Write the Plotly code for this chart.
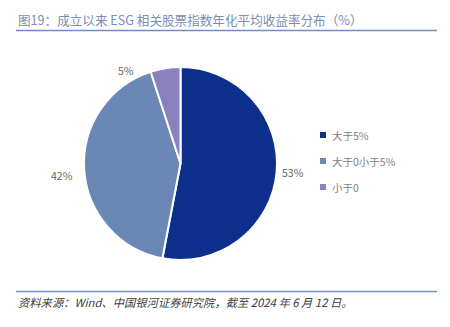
import plotly.graph_objects as go

# Share of ESG-related equity indices by annualised average return since inception
categories = ["大于5%", "大于0小于5%", "小于0"]
shares = [53, 42, 5]
colors = ["#0B2F8A", "#6B87B5", "#8A80BD"]

title_text = "图19：成立以来 ESG 相关股票指数年化平均收益率分布（%）"
source_text = "资料来源：Wind、中国银河证券研究院，截至 2024 年 6 月 12 日。"

W, H = 450, 327
font_cjk = "Noto Sans CJK SC"


def px_x(x):
    return x / W


def px_y(y):
    return 1 - y / H


fig = go.Figure(
    go.Pie(
        labels=categories,
        values=shares,
        sort=False,
        direction="clockwise",
        rotation=0,
        marker=dict(colors=colors, line=dict(color="white", width=2)),
        textinfo="none",
        hoverinfo="label+value",
        showlegend=False,
        domain=dict(x=[px_x(84), px_x(277)], y=[px_y(260), px_y(67)]),
    )
)

shapes = [
    dict(type="line", xref="paper", yref="paper",
         x0=px_x(16), x1=px_x(437), y0=px_y(30.5), y1=px_y(30.5),
         line=dict(color="#6F8DCB", width=1.5)),
    dict(type="line", xref="paper", yref="paper",
         x0=px_x(16), x1=px_x(437), y0=px_y(291.5), y1=px_y(291.5),
         line=dict(color="#6F8DCB", width=1.5)),
]

annotations = [
    dict(text=title_text, xref="paper", yref="paper",
         x=px_x(16), y=px_y(19), xanchor="left", yanchor="middle",
         showarrow=False,
         font=dict(family=font_cjk, size=12.6, color="#7C8DB8")),
    dict(text="<i>" + source_text + "</i>", xref="paper", yref="paper",
         x=px_x(16), y=px_y(302), xanchor="left", yanchor="middle",
         showarrow=False,
         font=dict(family=font_cjk, size=11.3, color="#404040")),
]

# Percentage labels around the pie
label_pos = [(292.5, 172.5), (62, 175), (126.5, 70.5)]
for v, (lx, ly) in zip(shares, label_pos):
    annotations.append(
        dict(text=f"{v}%", xref="paper", yref="paper",
             x=px_x(lx), y=px_y(ly), xanchor="center", yanchor="middle",
             showarrow=False,
             font=dict(family=font_cjk, size=10.5, color="#666666")))

# Legend: small squares with category names
legend_y = [135, 161, 187]
for name, col, ly in zip(categories, colors, legend_y):
    shapes.append(
        dict(type="rect", xref="paper", yref="paper",
             x0=px_x(320), x1=px_x(326), y0=px_y(ly + 3), y1=px_y(ly - 3),
             fillcolor=col, line=dict(width=0)))
    annotations.append(
        dict(text=name, xref="paper", yref="paper",
             x=px_x(329.5), y=px_y(ly), xanchor="left", yanchor="middle",
             showarrow=False,
             font=dict(family=font_cjk, size=10.5, color="#808080")))

fig.update_layout(
    width=W,
    height=H,
    margin=dict(l=0, r=0, t=0, b=0),
    paper_bgcolor="white",
    plot_bgcolor="white",
    font=dict(family=font_cjk),
    showlegend=False,
    shapes=shapes,
    annotations=annotations,
)

fig.write_html("out.html")
